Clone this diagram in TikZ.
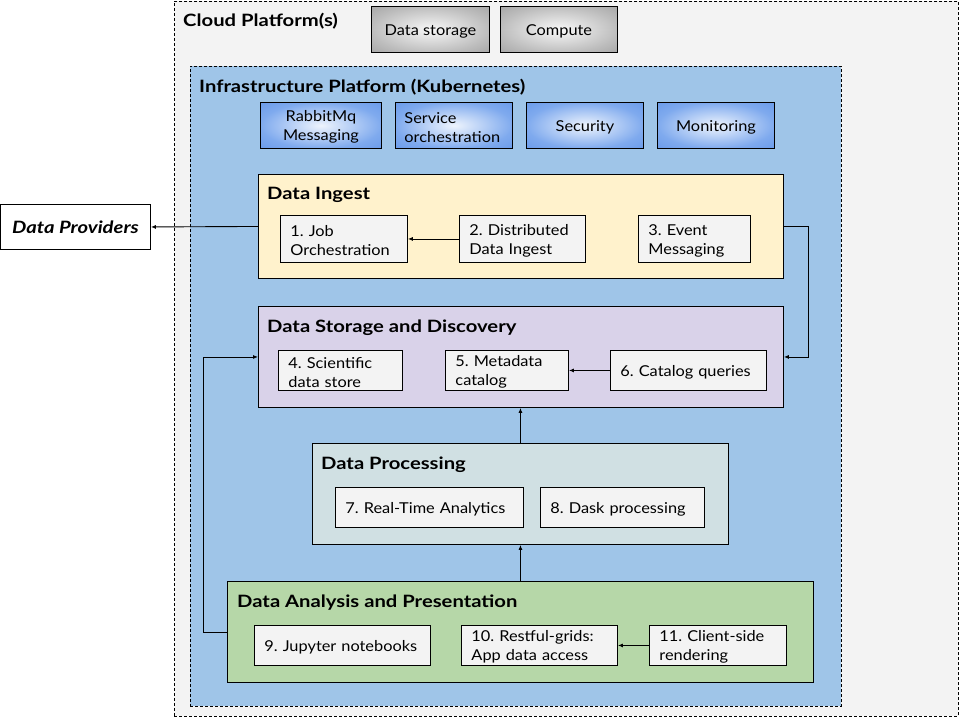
\documentclass[tikz,border=0pt]{standalone}
\usepackage{fontspec}
\setmainfont{Lato}[FakeStretch=1.09]
\newfontfamily\titlefont{Lato}[FakeStretch=1.19]
\usetikzlibrary{arrows.meta}
\definecolor{cloudbg}{HTML}{F3F3F3}
\definecolor{infrabg}{HTML}{9FC5E8}
\definecolor{ingestbg}{HTML}{FFF2CC}
\definecolor{storebg}{HTML}{D9D2E9}
\definecolor{procbg}{HTML}{D0E0E3}
\definecolor{anabg}{HTML}{B6D7A8}
\definecolor{itembg}{HTML}{F3F3F3}
\definecolor{graycorner}{HTML}{A6A6A6}
\definecolor{grayedge}{HTML}{BDBDBD}
\definecolor{grayin}{HTML}{F8F8F8}
\definecolor{bluecorner}{HTML}{6A9BEA}
\definecolor{blueedge}{HTML}{7FAAEE}
\definecolor{bluein}{HTML}{EEF4FD}
\pgfdeclareradialshading{grayrad}{\pgfpoint{0bp}{0bp}}{color(0bp)=(grayin); color(25bp)=(grayedge); color(36bp)=(graycorner); color(50bp)=(graycorner)}
\pgfdeclareradialshading{bluerad}{\pgfpoint{0bp}{0bp}}{color(0bp)=(bluein); color(25bp)=(blueedge); color(36bp)=(bluecorner); color(50bp)=(bluecorner)}
\tikzset{
  x=1pt, y=-1pt,
  lw/.style={line width=0.9pt},
  container/.style={lw, draw=black, anchor=north west, inner sep=0pt},
  title/.style={anchor=west, inner sep=0pt, font=\titlefont\fontsize{17}{20}\selectfont\bfseries},
  lowertext/.style={execute at begin node={\rule{0pt}{14.5pt}}},
  item/.style={lw, draw=black, fill=itembg, anchor=north west, inner xsep=10pt, inner ysep=0pt,
     align=left, font=\frenchspacing\fontsize{15}{19}\selectfont, lowertext},
  grayitem/.style={lw, draw=black, anchor=north west, inner sep=0pt, align=center,
     shading=grayrad, font=\fontsize{15}{19}\selectfont, lowertext},
  blueitem/.style={lw, draw=black, anchor=north west, inner xsep=10pt, inner ysep=0pt,
     shading=bluerad, font=\fontsize{15}{19}\selectfont, lowertext},
  arr/.style={lw, -{Latex[length=5pt,width=4pt]}},
}
\begin{document}
\begin{tikzpicture}
\useasboundingbox (0,0) rectangle (960,720);
% Cloud platform
\node[container, dashed, dash pattern=on 3pt off 2pt, fill=cloudbg, minimum width=784pt, minimum height=715pt] (cloud) at (174,1) {};
\node[title] (cloudt) at (183,21) {Cloud Platform(s)};
\node[grayitem, minimum width=118pt, minimum height=46pt] (dstore) at (371,6) {Data storage};
\node[grayitem, minimum width=117pt, minimum height=46pt] (compute) at (500,6) {Compute};
% Infrastructure
\node[container, dashed, dash pattern=on 3pt off 2pt, fill=infrabg, minimum width=651pt, minimum height=640pt] (infra) at (190,66) {};
\node[title] (infrat) at (199,87) {Infrastructure Platform (Kubernetes)};
\node[blueitem, minimum width=121pt, minimum height=46pt, text width=101pt, align=center] (rabbit) at (260,102) {RabbitMq\\Messaging};
\node[blueitem, minimum width=117pt, minimum height=46pt, text width=109pt, align=left, inner xsep=4pt] (svc) at (395,102) {\hspace*{5pt}Service\\\hspace*{5pt}orchestration};
\node[blueitem, minimum width=117pt, minimum height=46pt, text width=97pt, align=center] (sec) at (526,102) {Security};
\node[blueitem, minimum width=117pt, minimum height=46pt, text width=97pt, align=center] (mon) at (657,102) {Monitoring};
% Data providers
\node[lw, draw=black, fill=white, anchor=north west, minimum width=150pt, minimum height=45pt, inner sep=0pt,
      font=\titlefont\fontsize{17}{20}\selectfont\bfseries\itshape] (dp) at (0,204) {Data Providers};
% Data Ingest
\node[container, fill=ingestbg, minimum width=525pt, minimum height=104pt] (ingest) at (258,174) {};
\node[title] (ingestt) at (267,195) {Data Ingest};
\node[item, minimum width=127pt, minimum height=47pt, text width=107pt] (job) at (280,215) {1. Job\\Orchestration};
\node[item, minimum width=126pt, minimum height=47pt, text width=106pt] (ddi) at (459,215) {2. Distributed\\Data Ingest};
\node[item, minimum width=112pt, minimum height=47pt, text width=92pt] (evm) at (638,215) {3. Event\\Messaging};
% Data Storage
\node[container, fill=storebg, minimum width=525pt, minimum height=101pt] (store) at (258,306) {};
\node[title] (storet) at (267,328) {Data Storage and Discovery};
\node[item, minimum width=124pt, minimum height=40pt, text width=104pt] (sci) at (278,350) {4. Scientific\\data store};
\node[item, minimum width=123pt, minimum height=40pt, text width=103pt] (meta) at (445,350) {5. Metadata\\catalog};
\node[item, minimum width=156pt, minimum height=40pt, text width=136pt] (cq) at (610,350) {6. Catalog queries};
% Data Processing
\node[container, fill=procbg, minimum width=416pt, minimum height=101pt] (proc) at (312,443) {};
\node[title] (proct) at (321,465) {Data Processing};
\node[item, minimum width=188pt, minimum height=40pt, text width=168pt] (rta) at (335,487) {7. Real-Time Analytics};
\node[item, minimum width=164pt, minimum height=40pt, text width=144pt] (dask) at (540,487) {8. Dask processing};
% Data Analysis
\node[container, fill=anabg, minimum width=586pt, minimum height=101pt] (ana) at (227,581) {};
\node[title] (anat) at (237,603) {Data Analysis and Presentation};
\node[item, minimum width=176pt, minimum height=40pt, text width=156pt] (jup) at (254,625) {9. Jupyter notebooks};
\node[item, minimum width=156pt, minimum height=40pt, text width=136pt] (rest) at (461,625) {10. Restful-grids:\\App data access};
\node[item, minimum width=137pt, minimum height=40pt, text width=117pt] (csr) at (649,625) {11. Client-side\\rendering};
% Connectors
\draw[arr] (ingest.west) -- (dp.east);
\draw[arr] (ddi.west) -- (job.east);
\draw[arr] (ingest.east) -- ++(25,0) |- (store.east);
\draw[arr] (cq.west) -- (meta.east);
\draw[arr] (proc.north) -- (proc.north |- store.south);
\draw[arr] (ana.north) -- (ana.north |- proc.south);
\draw[arr] (csr.west) -- (rest.east);
\draw[arr] (ana.west) -- ++(-24,0) |- (store.west);
\end{tikzpicture}
\end{document}
